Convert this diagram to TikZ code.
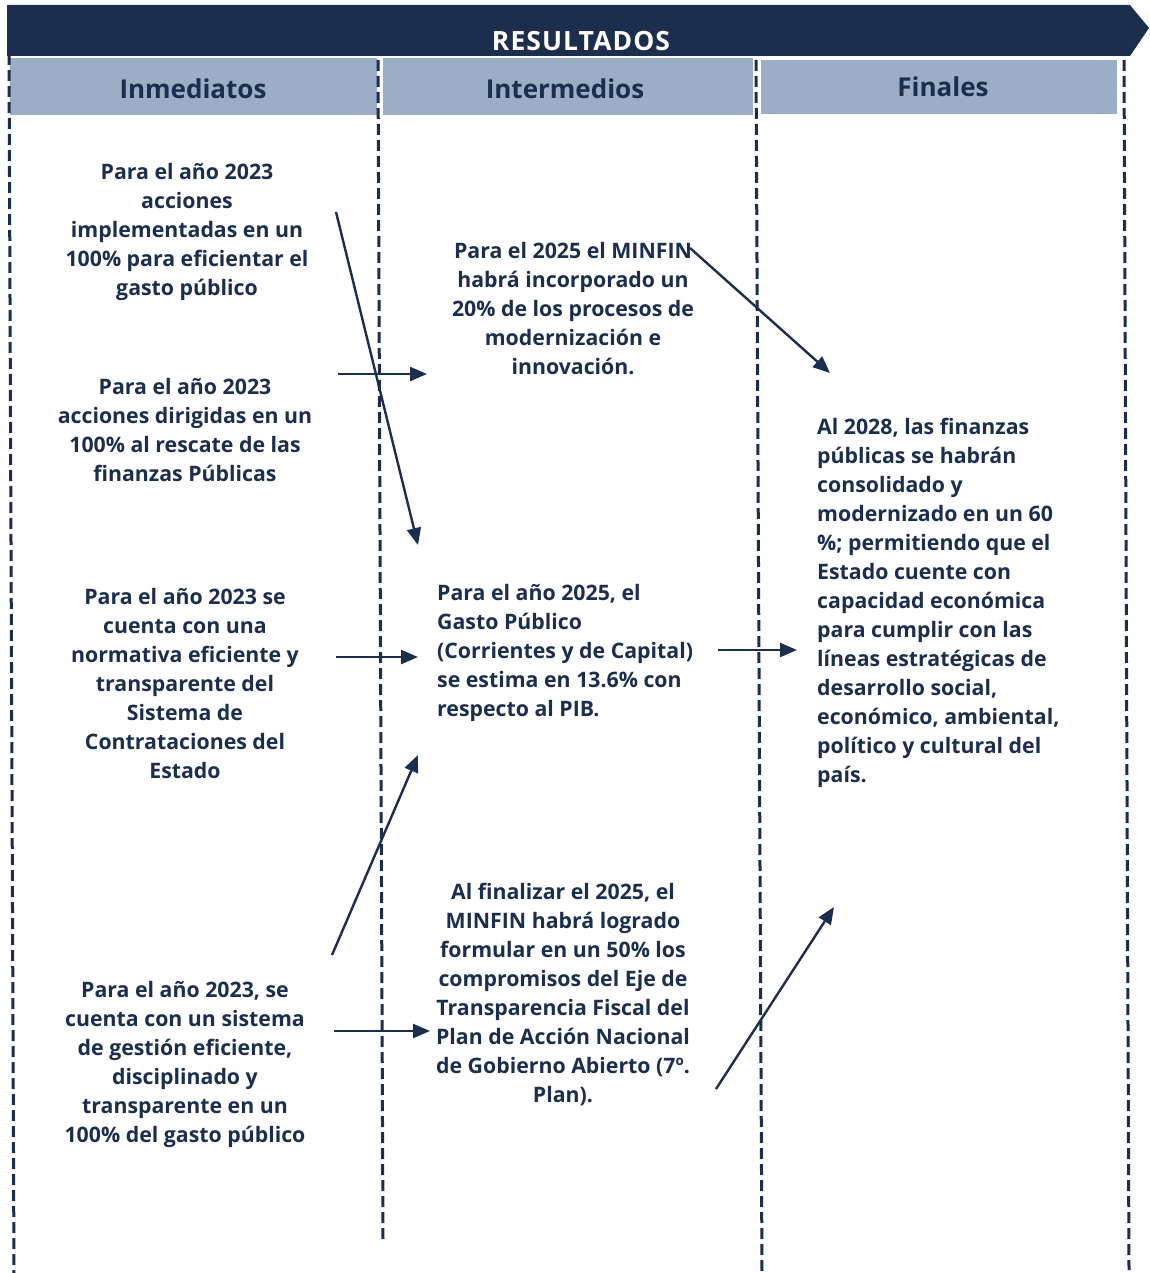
\documentclass[tikz,border=0pt]{standalone}
\usepackage{fontspec}
\setmainfont{Open Sans}[BoldFont={Open Sans Bold}]
\usetikzlibrary{arrows.meta}
\definecolor{navy}{HTML}{1B2E4D}
\definecolor{headblue}{HTML}{9BAEC6}
\begin{document}
\begin{tikzpicture}[x=1pt,y=-1pt,
  body/.style={text=navy,font=\fontsize{21.3}{29}\selectfont\bfseries,inner sep=0pt},
  cbody/.style={body,align=center},
  lbody/.style={body,align=left},
  colhead/.style={fill=headblue,draw=none},
  headtext/.style={text=navy,font=\fontsize{26}{30}\selectfont\bfseries},
  divider/.style={draw=navy,line width=3pt,dash pattern=on 11pt off 5pt},
  link/.style={draw=navy,line width=2.4pt,-{Triangle[length=17pt,width=14pt]}}]
\useasboundingbox (0,0) rectangle (1149,1273);

% banner
\fill[navy] (7,5) -- (1130,5) -- (1149,28) -- (1130,56) -- (7,56) -- cycle;
\node[text=white,font=\fontsize{26.5}{30}\selectfont\bfseries\addfontfeature{LetterSpace=4}] (banner) at (581,41) {RESULTADOS};

% column headers
\fill[colhead] (10,58) rectangle (377,115);
\fill[colhead] (383,58) rectangle (753,115);
\fill[colhead] (761,60) rectangle (1117,114);
\node[headtext] (hInm) at (193,89) {Inmediatos};
\node[headtext] (hInt) at (565,89) {Intermedios};
\node[headtext] (hFin) at (943,87) {Finales};

% column dividers
\draw[divider] (9,54) -- (14,1273);
\draw[divider] (378,60) -- (383,1240);
\draw[divider] (756,60) -- (762,1273);
\draw[divider] (1124,60) -- (1129,1270);

% immediate results
\node[cbody] (i1) at (187,232) {Para el año 2023\\acciones\\implementadas en un\\100\% para eficientar el\\gasto público};
\node[cbody] (i2) at (185,430) {Para el año 2023\\acciones dirigidas en un\\100\% al rescate de las\\finanzas Públicas};
\node[cbody] (i3) at (185,684) {Para el año 2023 se\\cuenta con una\\normativa eficiente y\\transparente del\\Sistema de\\Contrataciones del\\Estado};
\node[cbody] (i4) at (185,1064) {Para el año 2023, se\\cuenta con un sistema\\de gestión eficiente,\\disciplinado y\\transparente en un\\100\% del gasto público};

% intermediate results
\node[cbody] (m1) at (573,309) {Para el 2025 el MINFIN\\habrá incorporado un\\20\% de los procesos de\\modernización e\\innovación.};
\node[lbody,anchor=west] (m2) at (437,653) {Para el año 2025, el\\Gasto Público\\(Corrientes y de Capital)\\se estima en 13.6\% con\\respecto al PIB.};
\node[cbody] (m3) at (563,995) {Al finalizar el 2025, el\\MINFIN habrá logrado\\formular en un 50\% los\\compromisos del Eje de\\Transparencia Fiscal del\\Plan de Acción Nacional\\de Gobierno Abierto (7º.\\Plan).};

% final result
\node[lbody,anchor=west] (f1) at (817,603) {Al 2028, las finanzas\\públicas se habrán\\consolidado y\\modernizado en un 60\\\%; permitiendo que el\\Estado cuente con\\capacidad económica\\para cumplir con las\\líneas estratégicas de\\desarrollo social,\\económico, ambiental,\\político y cultural del\\país.};

% connector ends
\coordinate (i1out) at (336,212);
\coordinate (m2inA) at (418,545);
\coordinate (i2out) at (338,374);
\coordinate (m1in) at (427,374);
\coordinate (i3out) at (336,657);
\coordinate (m2inB) at (418,657);
\coordinate (i4outA) at (332,955);
\coordinate (m2inC) at (418,755);
\coordinate (i4outB) at (334,1031);
\coordinate (m3in) at (430,1031);
\coordinate (m1out) at (690,248);
\coordinate (f1inA) at (830,373);
\coordinate (m2out) at (718,650);
\coordinate (f1inB) at (797,650);
\coordinate (m3out) at (716,1089);
\coordinate (f1inC) at (834,907);

\draw[link] (i1out) -- (m2inA);
\draw[link] (i2out) -- (m1in);
\draw[link] (i3out) -- (m2inB);
\draw[link] (i4outA) -- (m2inC);
\draw[link] (i4outB) -- (m3in);
\draw[link] (m1out) -- (f1inA);
\draw[link] (m2out) -- (f1inB);
\draw[link] (m3out) -- (f1inC);
\end{tikzpicture}
\end{document}
